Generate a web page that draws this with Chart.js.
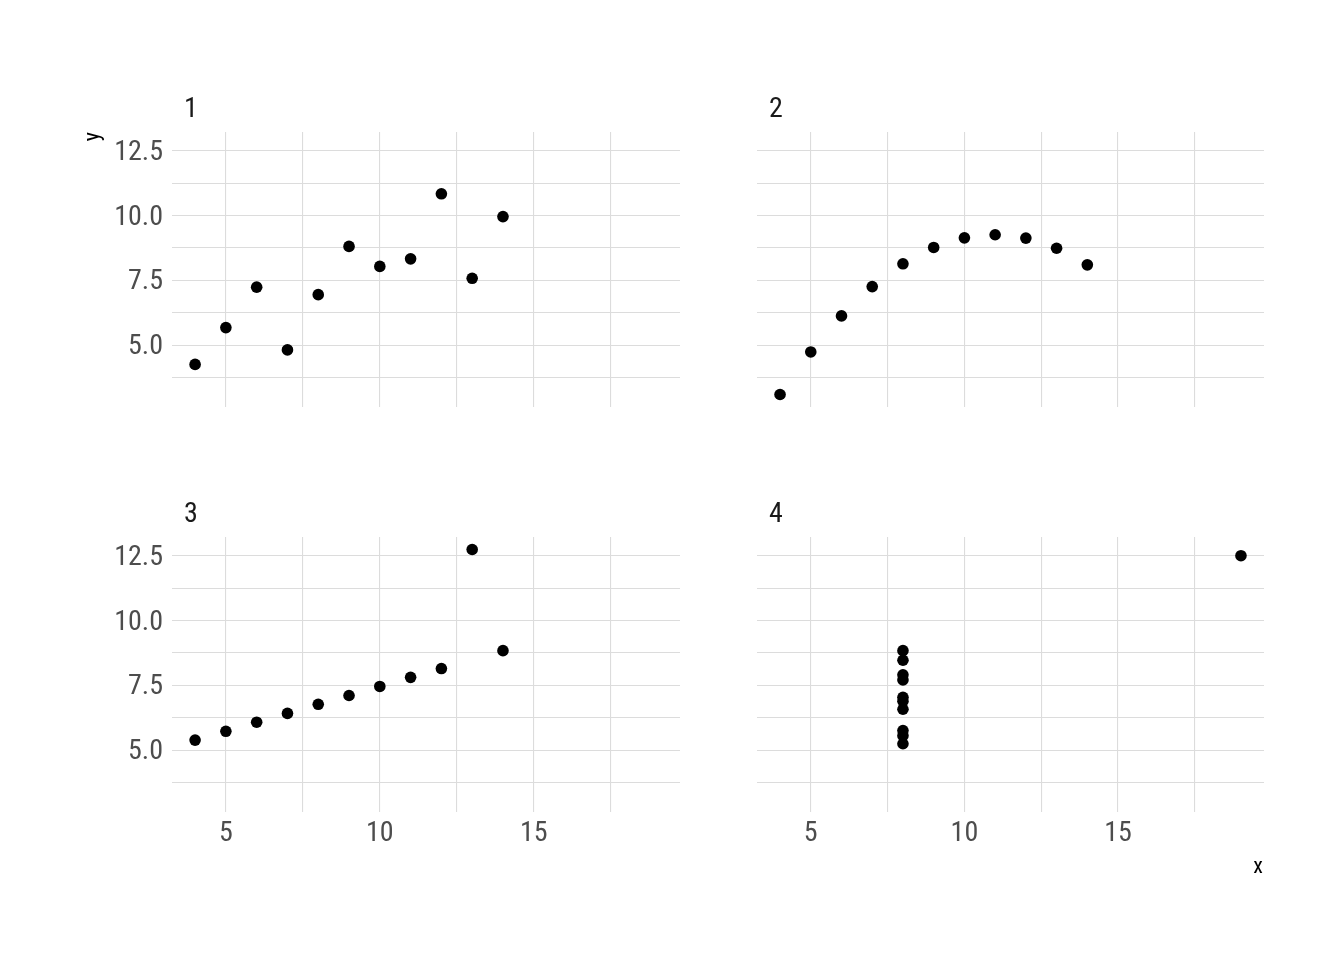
<!DOCTYPE html>
<html>
<head>
<meta charset="utf-8">
<script src="https://cdn.jsdelivr.net/npm/chart.js@4/dist/chart.umd.min.js"></script>
<style>
  html, body { margin: 0; padding: 0; background: #ffffff; }
  #wrap { position: relative; width: 1344px; height: 960px; }
  #wrap canvas { position: absolute; left: 0; top: 0; }
</style>
</head>
<body>
<div id="wrap">
  <canvas id="c1" width="1344" height="960"></canvas>
  <canvas id="c2" width="1344" height="960"></canvas>
  <canvas id="c3" width="1344" height="960"></canvas>
  <canvas id="c4" width="1344" height="960"></canvas>
</div>
<script>
// ---- Data (Anscombe's quartet) ----
const panelNames = ['1', '2', '3', '4'];
const x123 = [10, 8, 13, 9, 11, 14, 6, 4, 12, 7, 5];
const x4   = [8, 8, 8, 8, 8, 8, 8, 19, 8, 8, 8];
const y1 = [8.04, 6.95, 7.58, 8.81, 8.33, 9.96, 7.24, 4.26, 10.84, 4.82, 5.68];
const y2 = [9.14, 8.14, 8.74, 8.77, 9.26, 8.10, 6.13, 3.10, 9.13, 7.26, 4.74];
const y3 = [7.46, 6.77, 12.74, 7.11, 7.81, 8.84, 6.08, 5.39, 8.15, 6.42, 5.73];
const y4 = [6.58, 5.76, 7.71, 8.84, 8.47, 7.04, 5.25, 12.50, 5.56, 7.91, 6.89];

// ---- Tick / grid values ----
const xGrid = [5, 7.5, 10, 12.5, 15, 17.5];
const xTickLabels = ['5', '', '10', '', '15', ''];
const yGrid = [3.75, 5, 6.25, 7.5, 8.75, 10, 11.25, 12.5];
const yTickLabels = ['', '5.0', '', '7.5', '', '10.0', '', '12.5'];
const xRange = [3.25, 19.75];
const yRange = [2.618, 13.222];
const axisTitleX = 'x';
const axisTitleY = 'y';

const FONT = '"Roboto Condensed", Roboto, "Noto Sans", sans-serif';
const Y_AXIS_W = 100;
const X_AXIS_H = 60;

const panels = [
  { id: 'c1', xs: x123, ys: y1, box: [172, 132, 680, 407], showX: false, showY: true },
  { id: 'c2', xs: x123, ys: y2, box: [757, 132, 1264, 407], showX: false, showY: false },
  { id: 'c3', xs: x123, ys: y3, box: [172, 537, 680, 812], showX: true, showY: true },
  { id: 'c4', xs: x4,   ys: y4, box: [757, 537, 1264, 812], showX: true, showY: false }
];

const labelsPlugin = {
  id: 'stripLabels',
  afterDraw(chart, args, opts) {
    const ctx = chart.ctx;
    const a = chart.chartArea;
    ctx.save();
    ctx.fillStyle = '#1a1a1a';
    ctx.font = '28px ' + FONT;
    ctx.textAlign = 'left';
    ctx.textBaseline = 'alphabetic';
    ctx.fillText(opts.name, a.left + 12, a.top - 15);
    if (opts.yTitle) {
      ctx.save();
      ctx.translate(99, a.top);
      ctx.rotate(-Math.PI / 2);
      ctx.font = '22px ' + FONT;
      ctx.fillStyle = '#000000';
      ctx.textAlign = 'right';
      ctx.textBaseline = 'alphabetic';
      ctx.fillText(axisTitleY, 0, 0);
      ctx.restore();
    }
    if (opts.xTitle) {
      ctx.font = '22px ' + FONT;
      ctx.fillStyle = '#000000';
      ctx.textAlign = 'right';
      ctx.textBaseline = 'alphabetic';
      ctx.fillText(axisTitleX, a.right - 1, 873);
    }
    ctx.restore();
  }
};

panels.forEach((p, i) => {
  const [L, T, R, B] = p.box;
  const pts = p.xs.map((x, k) => ({ x: x, y: p.ys[k] }));
  new Chart(document.getElementById(p.id), {
    type: 'scatter',
    data: {
      datasets: [{
        data: pts,
        backgroundColor: '#000000',
        borderWidth: 0,
        pointRadius: 5.8,
        pointHoverRadius: 5.8
      }]
    },
    options: {
      responsive: false,
      animation: false,
      events: [],
      layout: { padding: { left: L - Y_AXIS_W, top: T, right: 1344 - R, bottom: 960 - B - X_AXIS_H } },
      plugins: {
        legend: { display: false },
        tooltip: { enabled: false },
        title: { display: false },
        stripLabels: { name: panelNames[i], yTitle: i === 0, xTitle: i === 3 }
      },
      scales: {
        x: {
          type: 'linear',
          min: xRange[0], max: xRange[1],
          afterBuildTicks: s => { s.ticks = xGrid.map(v => ({ value: v })); },
          afterFit: s => { s.height = X_AXIS_H; },
          border: { display: false },
          grid: { color: '#dcdcdc', lineWidth: 1.1, drawTicks: false },
          ticks: {
            display: p.showX,
            autoSkip: false,
            maxRotation: 0,
            padding: 5,
            color: '#4d4d4d',
            font: { family: FONT, size: 28 },
            callback: (v, idx) => xTickLabels[idx]
          }
        },
        y: {
          type: 'linear',
          min: yRange[0], max: yRange[1],
          afterBuildTicks: s => { s.ticks = yGrid.map(v => ({ value: v })); },
          afterFit: s => { s.width = Y_AXIS_W; },
          border: { display: false },
          grid: { color: '#dcdcdc', lineWidth: 1.1, drawTicks: false },
          ticks: {
            display: p.showY,
            autoSkip: false,
            padding: 9,
            labelOffset: 2,
            color: '#4d4d4d',
            font: { family: FONT, size: 28 },
            callback: (v, idx) => yTickLabels[idx]
          }
        }
      }
    },
    plugins: [labelsPlugin]
  });
});
</script>
</body>
</html>
